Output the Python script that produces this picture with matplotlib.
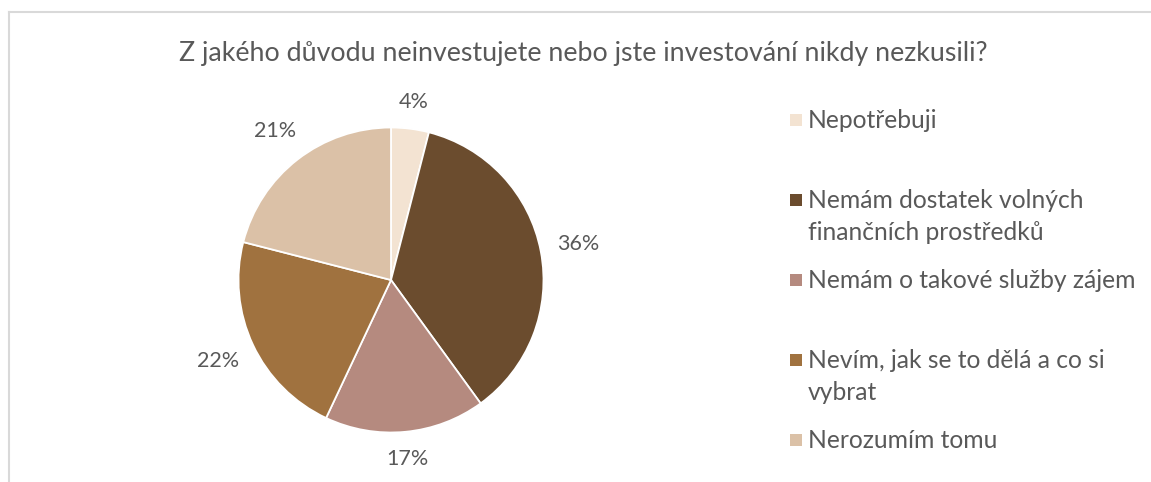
import matplotlib
matplotlib.use("Agg")
import numpy as np
import matplotlib.pyplot as plt
from matplotlib.patches import Rectangle
from matplotlib.lines import Line2D

title = "Z jakého důvodu neinvestujete nebo jste investování nikdy nezkusili?"
categories = ["Nepotřebuji",
              "Nemám dostatek volných\nfinančních prostředků",
              "Nemám o takové služby zájem",
              "Nevím, jak se to dělá a co si\nvybrat",
              "Nerozumím tomu"]
values = [4, 36, 17, 22, 21]
colors = ["#F3E3D2", "#6B4C2E", "#B58A7F", "#A0723F", "#DBC1A7"]

W, H = 1151, 482
plt.rcParams['font.family'] = ['Lato', 'DejaVu Sans']
txt_color = "#595959"

fig = plt.figure(figsize=(W / 100, H / 100), dpi=100)
fig.patch.set_facecolor("white")

# chart frame (light gray border, cut at bottom/right)
fig.add_artist(Line2D([8.5 / W, 1.0], [1 - 11.5 / H, 1 - 11.5 / H], color="#D9D9D9", lw=1.5))
fig.add_artist(Line2D([8.5 / W, 8.5 / W], [0, 1 - 11.5 / H], color="#D9D9D9", lw=1.5))

# pie axes
cx, cy, r = 391, 280, 152.5
lim = 1.3
size = 2 * lim * r
ax = fig.add_axes([(cx - size / 2) / W, (H - cy - size / 2) / H, size / W, size / H])
wedges, texts, autotexts = ax.pie(values, colors=colors, startangle=90, counterclock=False,
                                  autopct=lambda p: f"{p:.0f}%", pctdistance=1.22,
                                  wedgeprops=dict(edgecolor="white", linewidth=1.3),
                                  textprops=dict(color=txt_color, fontsize=15.5))
ax.set_xlim(-lim, lim)
ax.set_ylim(-lim, lim)
ax.set_aspect("equal")
ax.axis("off")

# place percentage labels "outside end" like Excel: fixed gap from rim to label box
fig.canvas.draw()
renderer = fig.canvas.get_renderer()
for w, t in zip(wedges, autotexts):
    ang = np.deg2rad((w.theta1 + w.theta2) / 2)
    bb = t.get_window_extent(renderer)
    hw, hh = bb.width / 2 / r, bb.height / 2 / r
    d = 1.0 + 0.1 + hw * abs(np.cos(ang)) + hh * abs(np.sin(ang))
    t.set_position((d * np.cos(ang), d * np.sin(ang)))

fig.text(583 / W, 1 - 53 / H, title, ha="center", va="center", fontsize=19.3, color=txt_color)

# legend
leg_y = [120, 200, 280, 360, 440]
line_gap = 32
for lab, col, y in zip(categories, colors, leg_y):
    fig.add_artist(Rectangle((790 / W, 1 - (y + 6) / H), 12 / W, 12 / H, facecolor=col,
                             edgecolor="none", transform=fig.transFigure))
    for i, line in enumerate(lab.split("\n")):
        fig.text(808 / W, 1 - (y + i * line_gap) / H, line, ha="left", va="center",
                 fontsize=17.7, color=txt_color)

fig.savefig("out.png", dpi=100, facecolor="white")
